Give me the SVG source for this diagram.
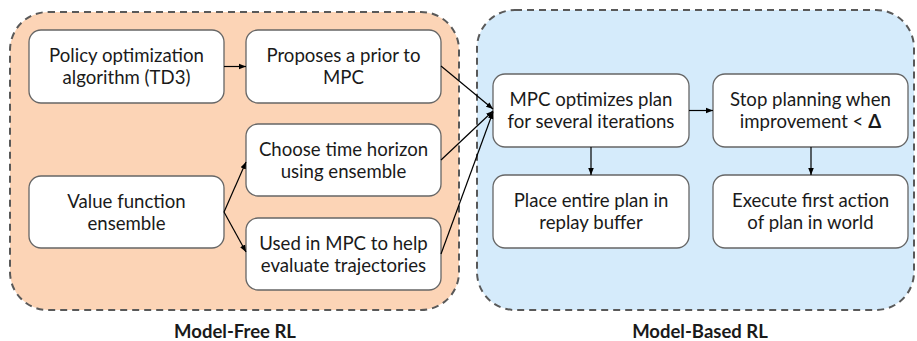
<svg xmlns="http://www.w3.org/2000/svg" width="917" height="341" viewBox="0 0 917 341">
<defs>
<marker id="ah" viewBox="0 0 10 10" refX="10" refY="5" markerWidth="7" markerHeight="7" markerUnits="userSpaceOnUse" orient="auto"><path d="M0,1 L10,5 L0,9 z" fill="#000"/></marker>
<style>
.grp{stroke:#595959;stroke-width:2;stroke-dasharray:7 5}
.node rect{fill:#fff;stroke:#666;stroke-width:1.3}
.node text{font-family:Lato,"Open Sans",sans-serif;font-size:18.6px;fill:#1a1a1a;text-anchor:middle}
.lbl{font-family:Lato,"Open Sans",sans-serif;font-size:18.5px;font-weight:bold;fill:#1a1a1a;text-anchor:middle}
.conn line{stroke:#000;stroke-width:1.2;marker-end:url(#ah)}
</style>
</defs>
<g id="model-free">
<rect class="grp" x="10" y="12" width="449" height="298" rx="38" fill="#fcd4b6"/>
<text class="lbl" x="235" y="338">Model-Free RL</text>
</g>
<g id="model-based">
<rect class="grp" x="477" y="10" width="437" height="300" rx="38" fill="#d5ebfb"/>
<text class="lbl" x="700" y="338">Model-Based RL</text>
</g>
<g id="policy" class="node"><rect x="29" y="30" width="195" height="73" rx="12"/><text x="126.5" y="62">Policy optimization</text><text x="126.5" y="84">algorithm (TD3)</text></g>
<g id="proposes" class="node"><rect x="246" y="30" width="195" height="73" rx="12"/><text x="343.5" y="62">Proposes a prior to</text><text x="343.5" y="84">MPC</text></g>
<g id="choose" class="node"><rect x="246" y="124" width="195" height="72" rx="12"/><text x="343.5" y="156">Choose time horizon</text><text x="343.5" y="178">using ensemble</text></g>
<g id="value" class="node"><rect x="29" y="176" width="195" height="72" rx="12"/><text x="126.5" y="208">Value function</text><text x="126.5" y="230">ensemble</text></g>
<g id="used" class="node"><rect x="246" y="218" width="195" height="72" rx="12"/><text x="343.5" y="250">Used in MPC to help</text><text x="343.5" y="272">evaluate trajectories</text></g>
<g id="mpc" class="node"><rect x="493" y="74" width="196" height="73" rx="12"/><text x="591" y="106">MPC optimizes plan</text><text x="591" y="128">for several iterations</text></g>
<g id="stop" class="node"><rect x="713" y="74" width="195" height="73" rx="12"/><text x="810.5" y="106">Stop planning when</text><text x="810.5" y="128">improvement &lt; <tspan font-weight="bold">Δ</tspan></text></g>
<g id="place" class="node"><rect x="493" y="175" width="196" height="73" rx="12"/><text x="591" y="207">Place entire plan in</text><text x="591" y="229">replay buffer</text></g>
<g id="execute" class="node"><rect x="713" y="175" width="195" height="73" rx="12"/><text x="810.5" y="207">Execute first action</text><text x="810.5" y="229">of plan in world</text></g>
<g id="connectors" class="conn">
<line x1="224" y1="66.5" x2="246" y2="66.5"/>
<line x1="441" y1="66" x2="493" y2="109"/>
<line x1="441" y1="160" x2="493" y2="111"/>
<line x1="441" y1="254" x2="493" y2="112"/>
<line x1="224" y1="212" x2="246" y2="162"/>
<line x1="224" y1="212" x2="246" y2="252"/>
<line x1="689" y1="110.5" x2="713" y2="110.5"/>
<line x1="591" y1="147" x2="591" y2="175"/>
<line x1="811" y1="147" x2="811" y2="175"/>
</g>
</svg>
